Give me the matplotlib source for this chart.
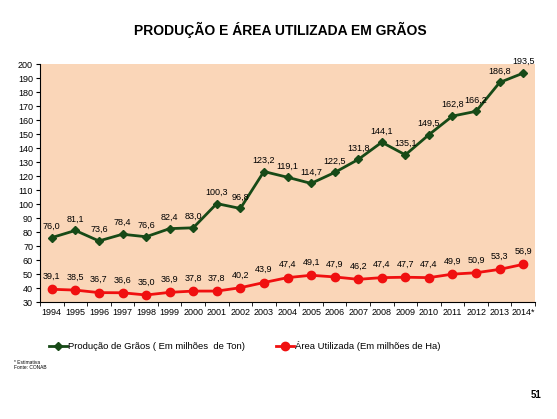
import numpy as np
import matplotlib.pyplot as plt

# Data.
anos = ['1994', '1995', '1996', '1997', '1998', '1999', '2000', '2001', '2002', '2003', '2004',
        '2005', '2006', '2007', '2008', '2009', '2010', '2011', '2012', '2013', '2014*']
producao = [76.0, 81.1, 73.6, 78.4, 76.6, 82.4, 83.0, 100.3, 96.8, 123.2, 119.1,
            114.7, 122.5, 131.8, 144.1, 135.1, 149.5, 162.8, 166.2, 186.8, 193.5]
area = [39.1, 38.5, 36.7, 36.6, 35.0, 36.9, 37.8, 37.8, 40.2, 43.9, 47.4,
        49.1, 47.9, 46.2, 47.4, 47.7, 47.4, 49.9, 50.9, 53.3, 56.9]

plt.rcParams['font.family'] = ['Liberation Sans', 'DejaVu Sans']

fig = plt.figure(figsize=(5.57, 4.19), dpi=100)
ax = fig.add_axes([40 / 557, 1 - 302 / 419, 495 / 557, 238 / 419])
ax.set_facecolor('#FAD6B8')

x = np.arange(len(anos))
verde = '#174A17'
vermelho = '#F01010'
l1, = ax.plot(x, producao, color=verde, lw=2, marker='D', ms=4.5,
              label='Produção de Grãos ( Em milhões  de Ton)')
l2, = ax.plot(x, area, color=vermelho, lw=2, marker='o', ms=6,
              label='Área Utilizada (Em milhões de Ha)')

def fmt(v):
    return f'{v:.1f}'.replace('.', ',')

for i, v in enumerate(producao):
    ax.annotate(fmt(v), (x[i], v), xytext=(0, 5), textcoords='offset points',
                ha='center', va='bottom', fontsize=6.5)
for i, v in enumerate(area):
    ax.annotate(fmt(v), (x[i], v), xytext=(0, 6), textcoords='offset points',
                ha='center', va='bottom', fontsize=6.5)

ax.set_xlim(-0.5, len(anos) - 0.5)
ax.set_ylim(30, 200)
ax.set_yticks(np.arange(30, 201, 10))
ax.set_xticks(x)
ax.set_xticklabels(anos, fontsize=6.5)
ax.set_xticks(np.arange(-0.5, len(anos), 1), minor=True)
ax.tick_params(axis='x', which='major', length=0, pad=4)
ax.tick_params(axis='x', which='minor', length=3, direction='out')
ax.tick_params(axis='y', labelsize=6.5, length=3, pad=2)
for s in ['top', 'right']:
    ax.spines[s].set_visible(False)

fig.text(0.503, 1 - 30 / 419, 'PRODUÇÃO E ÁREA UTILIZADA EM GRÃOS', ha='center', va='center',
         fontsize=10, fontweight='bold')

fig.legend(handles=[l1, l2], loc='center left', bbox_to_anchor=(40 / 557, 1 - 346 / 419), ncol=2,
           frameon=False, fontsize=6.8, columnspacing=3.2, handlelength=2, handletextpad=0.1)

fig.text(14 / 557, 1 - 365 / 419, '* Estimativa\nFonte: CONAB', fontsize=3.5, va='center')
fig.text(536 / 557, 1 - 395 / 419, '51', fontsize=7, fontweight='bold', ha='center', va='center')

fig.savefig('out.png', dpi=100)
